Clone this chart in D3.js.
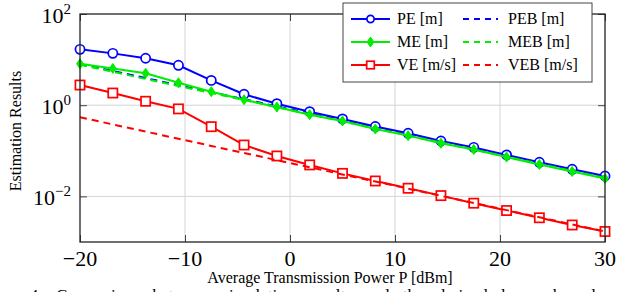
<!DOCTYPE html>
<html>
<head>
<meta charset="utf-8">
<script src="https://cdn.jsdelivr.net/npm/d3@7"></script>
<style>
  body { margin: 0; background: #fff; }
  text { font-family: "Liberation Serif", "Times New Roman", "DejaVu Serif", serif; }
</style>
</head>
<body>
<div id="chart"></div>
<script>
// x values: average transmission power in dBm
var powerValues = [-20, -16.875, -13.75, -10.625, -7.5, -4.375, -1.25, 1.875, 5, 8.125, 11.25, 14.375, 17.5, 20.625, 23.75, 26.875, 30];

// simulated errors
var peValues = [16.8, 13.7, 10.7, 7.5, 3.5, 1.74, 1.08, 0.72, 0.50, 0.34, 0.242, 0.164, 0.119, 0.081, 0.056, 0.0393, 0.028];
var meValues = [8.1, 6.4, 5.0, 3.1, 1.98, 1.32, 0.91, 0.62, 0.45, 0.30, 0.215, 0.146, 0.107, 0.073, 0.050, 0.0352, 0.0247];
var veValues = [2.77, 1.85, 1.22, 0.83, 0.338, 0.134, 0.077, 0.049, 0.032, 0.0218, 0.0151, 0.0104, 0.0071, 0.0049, 0.0034, 0.00236, 0.0017];

// bounds
var pebValues = [8.02, 5.61, 3.93, 2.75, 1.92, 1.35, 0.942, 0.659, 0.461, 0.323, 0.226, 0.158, 0.111, 0.0774, 0.0542, 0.0379, 0.0265];
var mebValues = [7.7, 5.39, 3.77, 2.64, 1.84, 1.30, 0.904, 0.633, 0.443, 0.310, 0.217, 0.152, 0.106, 0.0743, 0.052, 0.0364, 0.0254];
var vebValues = [0.543, 0.379, 0.264, 0.184, 0.128, 0.0896, 0.0624, 0.0435, 0.0303, 0.0212, 0.0148, 0.0103, 0.00718, 0.0050, 0.00349, 0.00243, 0.0017];

var xTicks = [-20, -10, 0, 10, 20, 30];
var yTicks = [1e-2, 1e0, 1e2];
var yTickExponents = ["\u22122", "0", "2"];

var seriesInfo = [
    { name: "PE [m]", values: peValues, color: "#0000ff", dashed: false, mark: "circle" },
    { name: "PEB [m]", values: pebValues, color: "#0000ff", dashed: true, mark: null },
    { name: "ME [m]", values: meValues, color: "#00ee00", dashed: false, mark: "diamond" },
    { name: "MEB [m]", values: mebValues, color: "#00ee00", dashed: true, mark: null },
    { name: "VE [m/s]", values: veValues, color: "#ff0000", dashed: false, mark: "square" },
    { name: "VEB [m/s]", values: vebValues, color: "#ff0000", dashed: true, mark: null }
];

var serifFont = "'Liberation Serif', 'Times New Roman', 'DejaVu Serif', serif";
var W = 618, H = 292;
var plot = { left: 80, right: 605, top: 14, bottom: 242 };

var svg = d3.select("#chart").append("svg")
    .attr("width", W)
    .attr("height", H)
    .attr("font-family", serifFont)
    .style("display", "block");

var x = d3.scaleLinear().domain([-20, 30]).range([plot.left, plot.right]);
var y = d3.scaleLog().domain([1e-3, 1e2]).range([plot.bottom, plot.top]);

// grid
svg.append("g").selectAll("line")
    .data(xTicks.slice(1, -1))
    .enter().append("line")
    .attr("x1", function(d) { return x(d); })
    .attr("x2", function(d) { return x(d); })
    .attr("y1", plot.top)
    .attr("y2", plot.bottom)
    .style("stroke", "#d4d4d4")
    .style("stroke-width", 1);

svg.append("g").selectAll("line")
    .data(yTicks.slice(0, -1))
    .enter().append("line")
    .attr("x1", plot.left)
    .attr("x2", plot.right)
    .attr("y1", function(d) { return y(d); })
    .attr("y2", function(d) { return y(d); })
    .style("stroke", "#d4d4d4")
    .style("stroke-width", 1);

// inward ticks on all four sides
function tickStyle(g) {
    g.select(".domain").remove();
    g.selectAll(".tick line").style("stroke", "#444").style("stroke-width", 1);
    g.selectAll(".tick text").remove();
}
svg.append("g").attr("transform", "translate(0," + plot.bottom + ")")
    .call(d3.axisBottom(x).tickValues(xTicks).tickSize(-7)).call(tickStyle);
svg.append("g").attr("transform", "translate(0," + plot.top + ")")
    .call(d3.axisTop(x).tickValues(xTicks).tickSize(-7)).call(tickStyle);
svg.append("g").attr("transform", "translate(" + plot.left + ",0)")
    .call(d3.axisLeft(y).tickValues(yTicks).tickSize(-7)).call(tickStyle);
svg.append("g").attr("transform", "translate(" + plot.right + ",0)")
    .call(d3.axisRight(y).tickValues(yTicks).tickSize(-7)).call(tickStyle);

// tick labels
svg.append("g").selectAll("text")
    .data(xTicks)
    .enter().append("text")
    .attr("x", function(d) { return x(d); })
    .attr("y", 266)
    .attr("text-anchor", "middle")
    .style("font-family", serifFont)
    .style("font-size", "22px")
    .text(function(d) { return d < 0 ? "\u2212" + Math.abs(d) : String(d); });

var yLab = svg.append("g").selectAll("text")
    .data(yTicks)
    .enter().append("text")
    .attr("x", 71)
    .attr("y", function(d) { return y(d) + 9; })
    .attr("text-anchor", "end")
    .style("font-family", serifFont)
    .style("font-size", "22px");
yLab.append("tspan").text("10");
yLab.append("tspan")
    .attr("dy", -9)
    .style("font-size", "15px")
    .text(function(d, i) { return yTickExponents[i]; });

// series lines
var line = d3.line()
    .x(function(d, i) { return x(powerValues[i]); })
    .y(function(d) { return y(d); });

var sets = svg.selectAll(".series")
    .data(seriesInfo)
    .enter().append("g")
    .attr("class", "series");

sets.append("path")
    .attr("d", function(d) { return line(d.values); })
    .style("fill", "none")
    .style("stroke", function(d) { return d.color; })
    .style("stroke-width", 2)
    .style("stroke-dasharray", function(d) { return d.dashed ? "7,5" : null; });

// markers
function drawMark(sel, type, color) {
    if (type === "circle") {
        sel.append("circle").attr("r", 4.6)
            .style("fill", "#fff").style("stroke", color).style("stroke-width", 1.7);
    } else if (type === "square") {
        sel.append("rect").attr("x", -4.6).attr("y", -4.6).attr("width", 9.2).attr("height", 9.2)
            .style("fill", "#fff").style("stroke", color).style("stroke-width", 1.7);
    } else if (type === "diamond") {
        sel.append("path").attr("d", "M0,-5L3.4,0L0,5L-3.4,0Z")
            .style("fill", color).style("stroke", color).style("stroke-width", 1);
    }
}

sets.each(function(s) {
    if (!s.mark) return;
    d3.select(this).selectAll(".mk")
        .data(s.values)
        .enter().append("g")
        .attr("class", "mk")
        .attr("transform", function(d, i) {
            return "translate(" + x(powerValues[i]) + "," + y(d) + ")";
        })
        .each(function() { drawMark(d3.select(this), s.mark, s.color); });
});

// frame
svg.append("rect")
    .attr("x", plot.left)
    .attr("y", plot.top)
    .attr("width", plot.right - plot.left)
    .attr("height", plot.bottom - plot.top)
    .style("fill", "none")
    .style("stroke", "#222")
    .style("stroke-width", 1.3);

// axis titles
svg.append("text")
    .attr("x", 330)
    .attr("y", 283)
    .attr("text-anchor", "middle")
    .style("font-family", serifFont)
    .style("font-size", "16px")
    .text("Average Transmission Power P [dBm]");

svg.append("text")
    .attr("transform", "translate(21,131)rotate(-90)")
    .attr("text-anchor", "middle")
    .style("font-family", serifFont)
    .style("font-size", "16px")
    .text("Estimation Results");

// legend
var legend = svg.append("g").attr("class", "legend");
legend.append("rect")
    .attr("x", 343)
    .attr("y", 3)
    .attr("width", 249)
    .attr("height", 79)
    .style("fill", "#fff")
    .style("stroke", "#444")
    .style("stroke-width", 1);

var items = legend.selectAll(".item")
    .data(seriesInfo)
    .enter().append("g")
    .attr("class", "item")
    .attr("transform", function(d, i) {
        var col = i % 2, row = Math.floor(i / 2);
        return "translate(" + (col === 0 ? 351 : 463) + "," + (19 + row * 23) + ")";
    });

items.append("line")
    .attr("x1", 0)
    .attr("x2", function(d) { return d.dashed ? 35 : 39; })
    .style("stroke", function(d) { return d.color; })
    .style("stroke-width", 2)
    .style("stroke-dasharray", function(d) { return d.dashed ? "6,5" : null; });

items.each(function(s) {
    if (!s.mark) return;
    var g = d3.select(this).append("g").attr("transform", "translate(19.5,0)");
    drawMark(g, s.mark, s.color);
    g.selectAll("circle").attr("r", 3.6);
    g.selectAll("rect").attr("x", -3.8).attr("y", -3.8).attr("width", 7.6).attr("height", 7.6);
});

items.append("text")
    .attr("x", function(d) { return d.dashed ? 45 : 46; })
    .attr("y", 5)
    .style("font-family", serifFont)
    .style("font-size", "16px")
    .text(function(d) { return d.name; });

// caption cut at the bottom edge
svg.append("text")
    .attr("x", -28)
    .attr("y", 301)
    .style("font-family", serifFont)
    .style("font-size", "17px")
    .style("word-spacing", "9px")
    .text("Figure 4: Comparison between simulation results and the derived lower bounds");
</script>
</body>
</html>
